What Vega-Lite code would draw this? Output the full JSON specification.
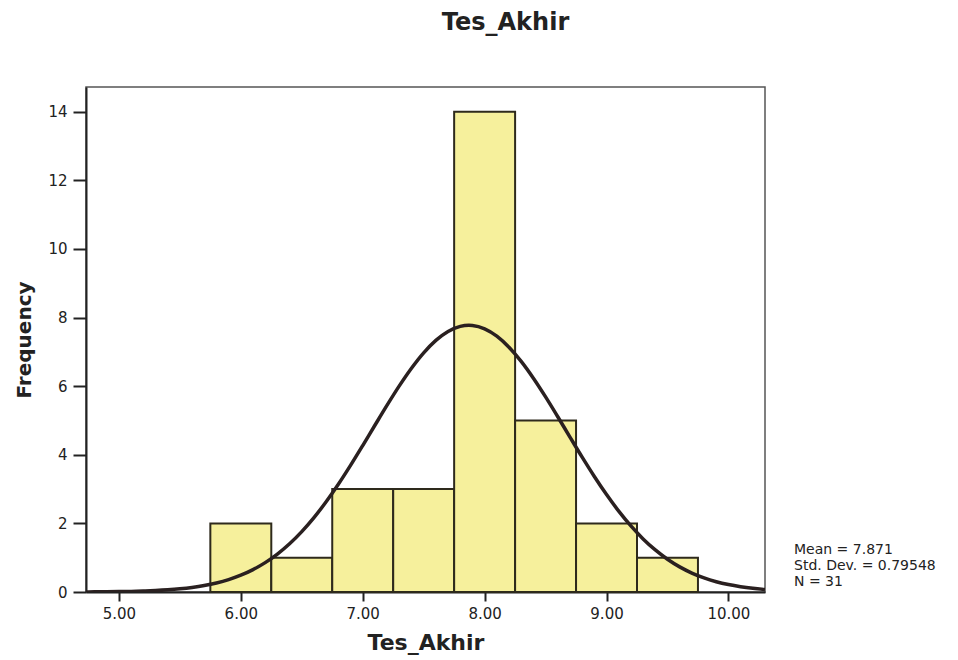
{
  "$schema": "https://vega.github.io/schema/vega-lite/v6.json",
  "width": 679,
  "height": 505,
  "autosize": {"type": "none"},
  "padding": {"left": 86, "top": 87, "right": 193, "bottom": 68},
  "background": "white",
  "title": {
    "text": "Tes_Akhir",
    "font": "DejaVu Sans",
    "fontSize": 24,
    "fontWeight": "bold",
    "color": "#222222",
    "anchor": "middle",
    "dx": 80,
    "offset": 52
  },
  "config": {
    "view": {"stroke": "#555555", "strokeWidth": 1.5},
    "axis": {
      "labelFont": "DejaVu Sans",
      "labelFontSize": 15,
      "labelColor": "#222222",
      "titleFont": "DejaVu Sans",
      "titleFontWeight": "bold",
      "titleColor": "#222222",
      "domainColor": "#222222",
      "domainWidth": 2,
      "tickColor": "#222222",
      "tickWidth": 2,
      "grid": false
    },
    "legend": {
      "labelFont": "DejaVu Sans",
      "labelFontSize": 14,
      "labelColor": "#222222"
    }
  },
  "datasets": {
    "bins": [
      {"bin_start": 5.75, "bin_end": 6.25, "count": 2},
      {"bin_start": 6.25, "bin_end": 6.75, "count": 1},
      {"bin_start": 6.75, "bin_end": 7.25, "count": 3},
      {"bin_start": 7.25, "bin_end": 7.75, "count": 3},
      {"bin_start": 7.75, "bin_end": 8.25, "count": 14},
      {"bin_start": 8.25, "bin_end": 8.75, "count": 5},
      {"bin_start": 8.75, "bin_end": 9.25, "count": 2},
      {"bin_start": 9.25, "bin_end": 9.75, "count": 1}
    ],
    "curve": [
      {"x": 4.7, "y": 0.0028}, {"x": 4.8, "y": 0.0045}, {"x": 4.9, "y": 0.0073},
      {"x": 5.0, "y": 0.0115}, {"x": 5.1, "y": 0.018}, {"x": 5.2, "y": 0.0277},
      {"x": 5.3, "y": 0.0419}, {"x": 5.4, "y": 0.0624}, {"x": 5.5, "y": 0.0915},
      {"x": 5.6, "y": 0.1321}, {"x": 5.7, "y": 0.1876}, {"x": 5.8, "y": 0.2623},
      {"x": 5.9, "y": 0.361}, {"x": 6.0, "y": 0.489}, {"x": 6.1, "y": 0.6521},
      {"x": 6.2, "y": 0.8559}, {"x": 6.3, "y": 1.106}, {"x": 6.4, "y": 1.406},
      {"x": 6.5, "y": 1.761}, {"x": 6.6, "y": 2.169}, {"x": 6.7, "y": 2.63},
      {"x": 6.8, "y": 3.14}, {"x": 6.9, "y": 3.69}, {"x": 7.0, "y": 4.268},
      {"x": 7.1, "y": 4.86}, {"x": 7.2, "y": 5.446}, {"x": 7.3, "y": 6.008},
      {"x": 7.4, "y": 6.523}, {"x": 7.5, "y": 6.972}, {"x": 7.6, "y": 7.335},
      {"x": 7.7, "y": 7.596}, {"x": 7.8, "y": 7.742}, {"x": 7.871, "y": 7.773},
      {"x": 7.9, "y": 7.768}, {"x": 8.0, "y": 7.672}, {"x": 8.1, "y": 7.458},
      {"x": 8.2, "y": 7.136}, {"x": 8.3, "y": 6.721}, {"x": 8.4, "y": 6.231},
      {"x": 8.5, "y": 5.686}, {"x": 8.6, "y": 5.108}, {"x": 8.7, "y": 4.516},
      {"x": 8.8, "y": 3.93}, {"x": 8.9, "y": 3.367}, {"x": 9.0, "y": 2.839},
      {"x": 9.1, "y": 2.356}, {"x": 9.2, "y": 1.925}, {"x": 9.3, "y": 1.548},
      {"x": 9.4, "y": 1.226}, {"x": 9.5, "y": 0.955}, {"x": 9.6, "y": 0.7324},
      {"x": 9.7, "y": 0.5529}, {"x": 9.8, "y": 0.4109}, {"x": 9.9, "y": 0.3005},
      {"x": 10.0, "y": 0.2163}, {"x": 10.1, "y": 0.1533}, {"x": 10.2, "y": 0.107},
      {"x": 10.3, "y": 0.0734}
    ],
    "stats": [
      {"stat": "Mean = 7.871"},
      {"stat": "Std. Dev. = 0.79548"},
      {"stat": "N = 31"}
    ]
  },
  "layer": [
    {
      "data": {"name": "bins"},
      "mark": {"type": "rect", "fill": "#f6f09c", "stroke": "#2e2a1c", "strokeWidth": 2},
      "encoding": {
        "x": {
          "field": "bin_start", "type": "quantitative",
          "scale": {"domain": [4.73, 10.3], "nice": false, "zero": false},
          "axis": {
            "title": "Tes_Akhir", "titleFontSize": 22, "titlePadding": 11,
            "values": [5, 6, 7, 8, 9, 10], "format": ".2f",
            "tickSize": 9, "labelPadding": 5
          }
        },
        "x2": {"field": "bin_end"},
        "y": {
          "field": "count", "type": "quantitative",
          "scale": {"domain": [0, 14.72], "nice": false},
          "axis": {
            "title": "Frequency", "titleFontSize": 20, "titlePadding": 13,
            "values": [0, 2, 4, 6, 8, 10, 12, 14],
            "tickSize": 13, "labelPadding": 6
          }
        },
        "y2": {"datum": 0}
      }
    },
    {
      "data": {"name": "curve"},
      "mark": {"type": "line", "color": "#2a2020", "strokeWidth": 3.5, "clip": true, "interpolate": "monotone"},
      "encoding": {
        "x": {"field": "x", "type": "quantitative"},
        "y": {"field": "y", "type": "quantitative"}
      }
    },
    {
      "data": {"name": "stats"},
      "mark": {"type": "point", "opacity": 0},
      "encoding": {
        "shape": {
          "field": "stat", "type": "nominal",
          "scale": {"domain": ["Mean = 7.871", "Std. Dev. = 0.79548", "N = 31"]},
          "legend": {
            "title": null,
            "orient": "none",
            "legendX": 694,
            "legendY": 456,
            "padding": 0,
            "symbolSize": 0,
            "symbolOpacity": 0,
            "symbolStrokeWidth": 0,
            "labelOffset": 0,
            "rowPadding": 2
          }
        }
      }
    }
  ]
}
